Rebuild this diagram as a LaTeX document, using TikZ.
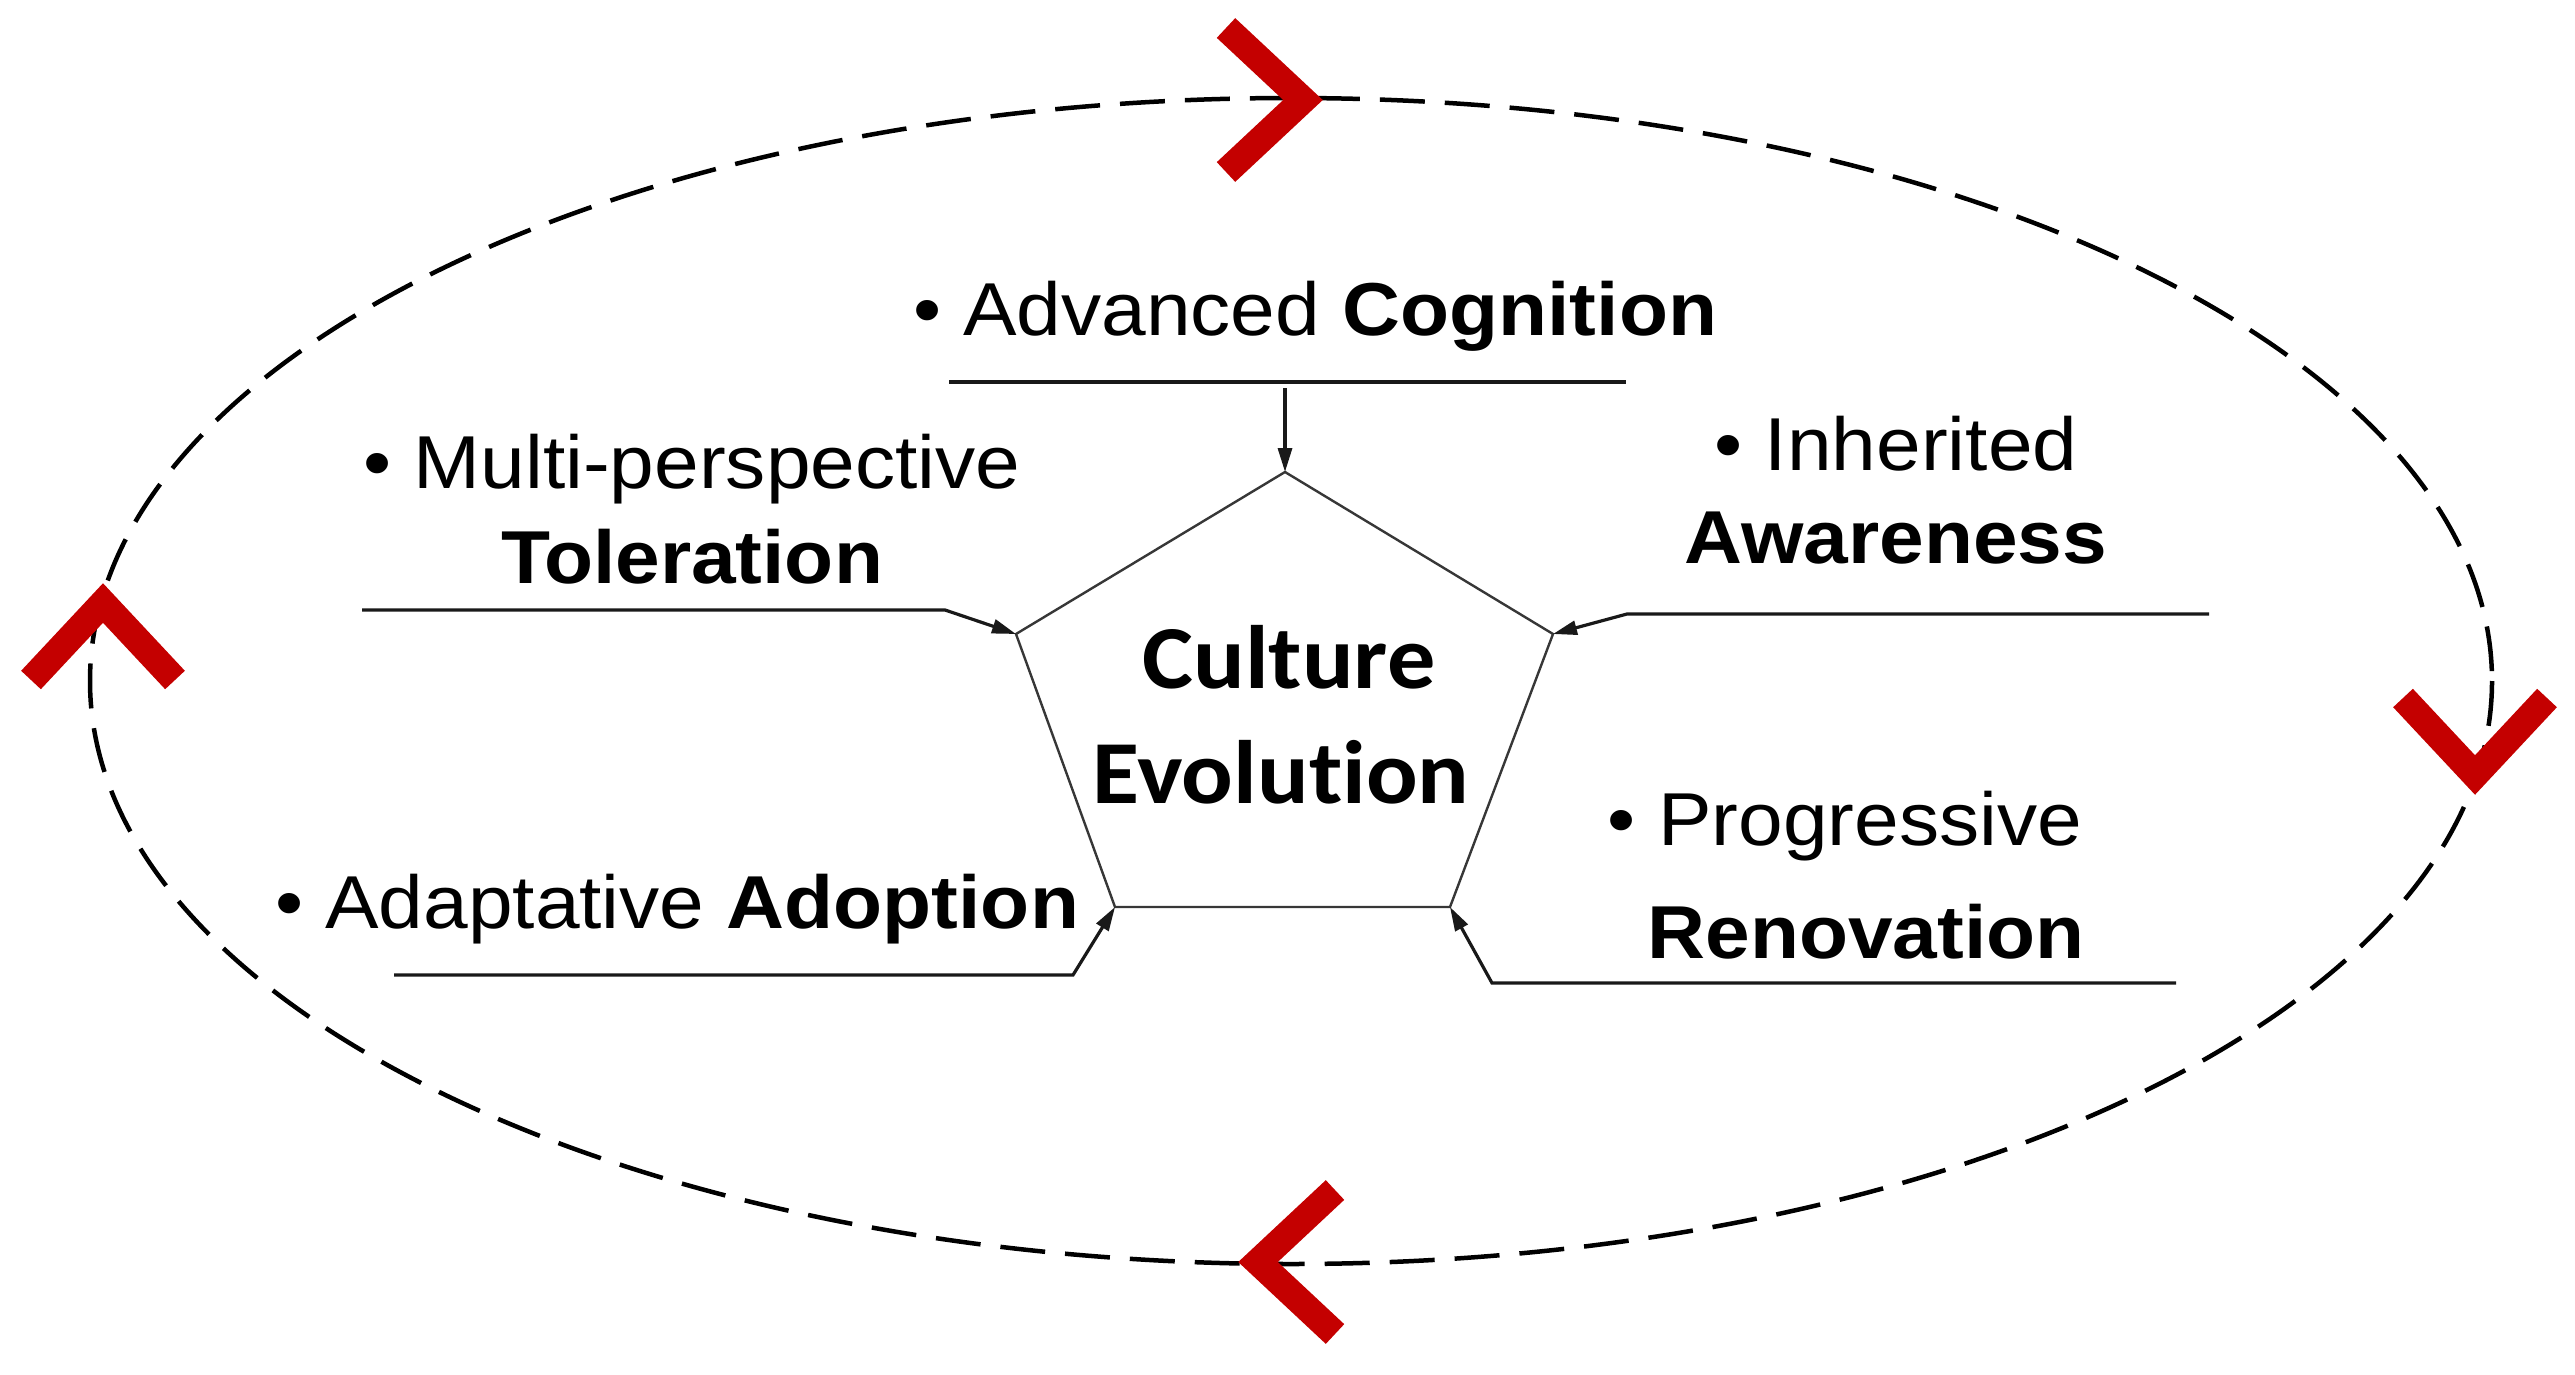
\documentclass[tikz,border=0pt]{standalone}
\usepackage{fontspec}
\setmainfont{Liberation Sans}[FakeStretch=1.07]
\newfontfamily\calfont{Carlito}[FakeStretch=1.07,Ligatures=NoCommon]
\usetikzlibrary{arrows.meta}
\definecolor{chevred}{RGB}{196,0,0}
\definecolor{pentgray}{RGB}{55,55,55}
\begin{document}
\begin{tikzpicture}[x=1pt,y=-1pt,
  lbl/.style={inner sep=0pt, anchor=base, font=\fontsize{75}{90}\selectfont},
  title/.style={inner sep=0pt, anchor=base, font=\calfont\bfseries\fontsize{90}{100}\selectfont},
  plainline/.style={line width=3.2pt, black!90, line join=miter},
  conn/.style={plainline, -{Triangle[length=24pt,width=14pt]}},
  chev/.style={line width=27pt, chevred, line cap=butt, line join=miter},
  loopline/.style={line width=4.5pt, dash pattern=on 45pt off 20pt},
  pent/.style={line width=2.4pt, pentgray, line join=miter}]
\useasboundingbox (0,0) rectangle (2575,1375);

% dashed cycle
\coordinate (ec) at (1291,681);
\draw[loopline] (ec) ellipse [x radius=1201, y radius=583];

% chevrons (clockwise)
\draw[chev] (1226,28) -- (1303,100) -- (1226,172);
\draw[chev] (2403,698) -- (2475,775) -- (2547,698);
\draw[chev] (1335,1190) -- (1258,1262) -- (1335,1334);
\draw[chev] (31,680) -- (103,603) -- (175,680);

% pentagon
\coordinate (pT) at (1285,472);
\coordinate (pUL) at (1016,634);
\coordinate (pUR) at (1553,634);
\coordinate (pLR) at (1450,907);
\coordinate (pLL) at (1115,907);
\draw[pent] (pT) -- (pUR) -- (pLR) -- (pLL) -- (pUL) -- cycle;

\node[title] (cult) at (1289,688) {Culture};
\node[title] (evo) at (1281,803) {Evolution};

% labels
\node[lbl] (cog) at (1315,335) {• Advanced \textbf{Cognition}};
\node[lbl] (multi) at (692,488) {• Multi-perspective};
\node[lbl] (tol) at (692,583) {\textbf{Toleration}};
\node[lbl] (inh) at (1896,470) {• Inherited};
\node[lbl] (awa) at (1896,563) {\textbf{Awareness}};
\node[lbl] (prog) at (1845,845) {• Progressive};
\node[lbl] (reno) at (1866,958) {\textbf{Renovation}};
\node[lbl] (adap) at (677,928) {• Adaptative \textbf{Adoption}};

% connectors
\coordinate (cogL) at (949,382);
\coordinate (cogR) at (1626,382);
\coordinate (cogA) at (1285,388);
\draw[plainline] (cogL) -- (cogR);
\draw[conn] (cogA) -- (pT);

\coordinate (tolS) at (362,610);
\coordinate (tolB) at (945,610);
\draw[conn] (tolS) -- (tolB) -- (pUL);

\coordinate (awaS) at (2209,614);
\coordinate (awaB) at (1627,614);
\draw[conn] (awaS) -- (awaB) -- (pUR);

\coordinate (renS) at (2176,983);
\coordinate (renB) at (1492,983);
\draw[conn] (renS) -- (renB) -- (pLR);

\coordinate (adoS) at (394,975);
\coordinate (adoB) at (1073,975);
\draw[conn] (adoS) -- (adoB) -- (pLL);
\end{tikzpicture}
\end{document}
